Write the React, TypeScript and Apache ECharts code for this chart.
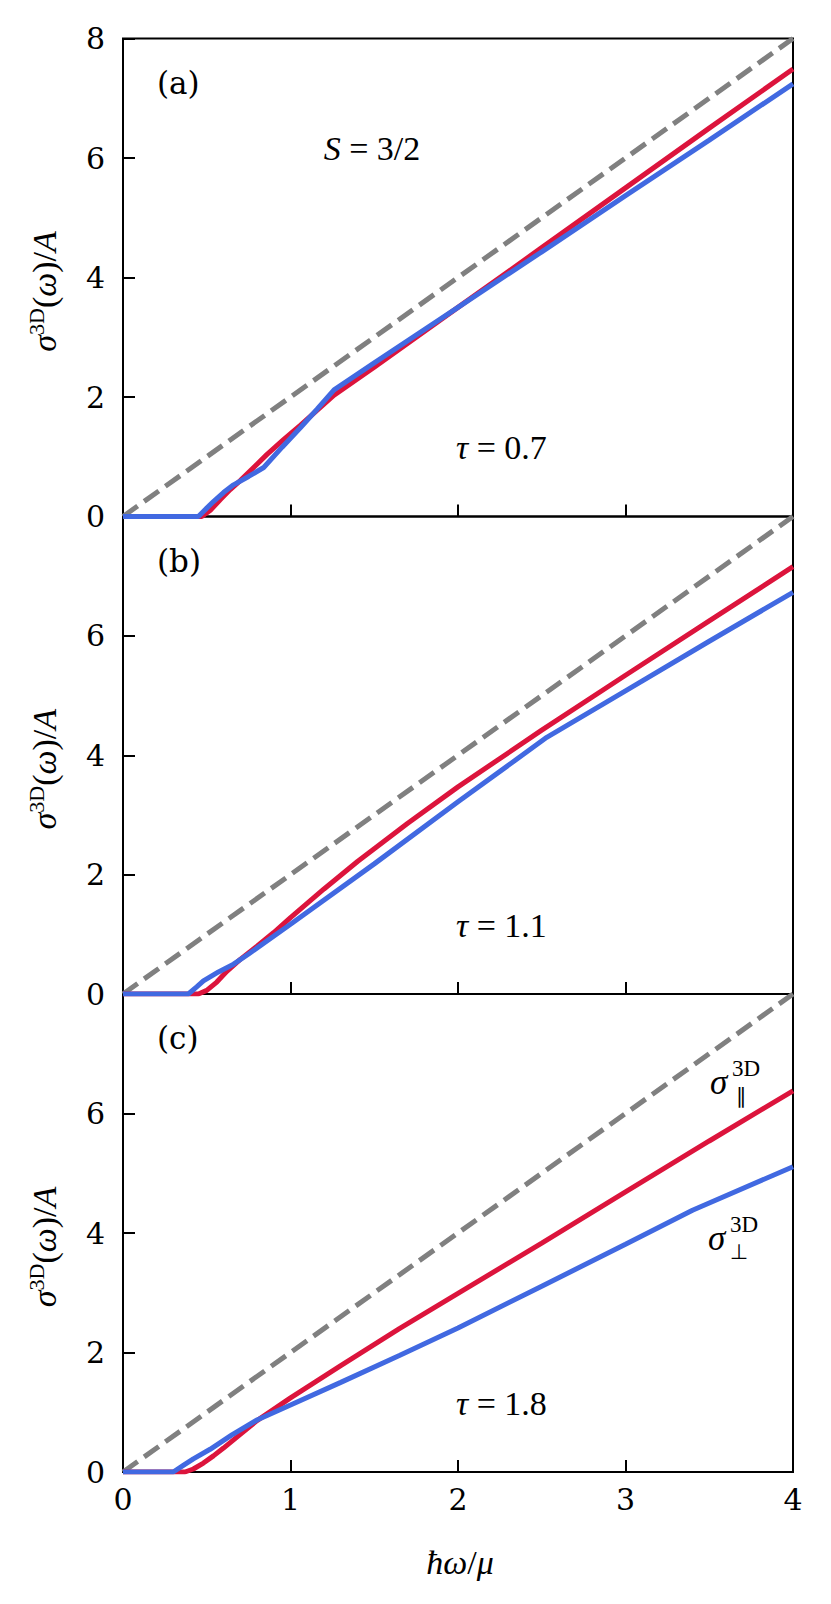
import React, { useEffect, useRef } from "react";
import * as echarts from "echarts";

// dashed reference line (same in every panel)
const dashX = [0, 4];
const dashY = [0, 8];

// panel (a), tau = 0.7
const redAX = [0, 0.47, 0.52, 0.58, 0.64, 0.7, 0.78, 0.86, 0.96, 1.06, 1.16, 1.26, 1.5, 2.0, 2.5, 3.0, 3.5, 4.0];
const redAY = [0, 0, 0.1, 0.28, 0.45, 0.6, 0.82, 1.04, 1.29, 1.53, 1.78, 2.03, 2.5, 3.5, 4.5, 5.5, 6.5, 7.49];
const blueAX = [0, 0.45, 0.5, 0.54, 0.6, 0.66, 0.75, 0.84, 0.95, 1.06, 1.16, 1.26, 1.5, 2.0, 2.5, 3.0, 3.5, 4.0];
const blueAY = [0, 0, 0.14, 0.25, 0.4, 0.53, 0.67, 0.82, 1.16, 1.49, 1.8, 2.12, 2.57, 3.5, 4.43, 5.37, 6.3, 7.24];

// panel (b), tau = 1.1
const redBX = [0, 0.45, 0.5, 0.56, 0.62, 0.7, 0.8, 0.9, 1.0, 1.2, 1.4, 1.7, 2.0, 2.5, 3.0, 3.5, 4.0];
const redBY = [0, 0, 0.06, 0.2, 0.38, 0.58, 0.8, 1.03, 1.28, 1.76, 2.22, 2.86, 3.47, 4.42, 5.34, 6.25, 7.16];
const blueBX = [0, 0.39, 0.44, 0.48, 0.57, 0.66, 0.75, 1.0, 1.5, 2.0, 2.53, 3.0, 3.5, 4.0];
const blueBY = [0, 0, 0.12, 0.22, 0.37, 0.5, 0.67, 1.17, 2.18, 3.22, 4.3, 5.08, 5.91, 6.73];

// panel (c), tau = 1.8
const redCX = [0, 0.37, 0.42, 0.48, 0.54, 0.6, 0.7, 0.8, 1.0, 1.3, 1.65, 2.0, 2.5, 3.0, 3.5, 4.0];
const redCY = [0, 0, 0.05, 0.15, 0.27, 0.4, 0.63, 0.86, 1.24, 1.78, 2.4, 2.99, 3.83, 4.69, 5.54, 6.38];
const blueCX = [0, 0.3, 0.36, 0.42, 0.52, 0.65, 0.8, 1.0, 1.3, 1.65, 2.0, 2.5, 3.0, 3.4, 4.0];
const blueCY = [0, 0, 0.11, 0.22, 0.38, 0.62, 0.87, 1.12, 1.5, 1.95, 2.41, 3.11, 3.81, 4.38, 5.11];

const panelLabels = ["(a)", "(b)", "(c)"];
const tauLabels = ["0.7", "1.1", "1.8"];

const RED = "#dc143c";
const BLUE = "#4169e1";
const GRAY = "#808080";
const SERIF = "'DejaVu Serif', serif";
const MATH = "'Liberation Serif', 'Times New Roman', serif";

const pairs = (xs: number[], ys: number[]) => xs.map((x, i) => [x, ys[i]]);

const panels = [
  { red: pairs(redAX, redAY), blue: pairs(blueAX, blueAY) },
  { red: pairs(redBX, redBY), blue: pairs(blueBX, blueBY) },
  { red: pairs(redCX, redCY), blue: pairs(blueCX, blueCY) },
];

const GRID_LEFT = 123;
const GRID_W = 670;
const GRID_TOPS = [38.5, 516.5, 994];
const GRID_H = [478, 477.5, 478];

const mathRich = {
  i: { fontFamily: MATH, fontStyle: "italic", fontSize: 34, fill: "#000" },
  n: { fontFamily: MATH, fontSize: 34, fill: "#000" },
};

export default function App() {
  const ref = useRef<HTMLDivElement>(null);
  useEffect(() => {
    document.body.style.margin = "0";
    const chart = echarts.init(ref.current!, null, { renderer: "svg" });

    const grid = GRID_TOPS.map((t, i) => ({
      left: GRID_LEFT,
      top: t,
      width: GRID_W,
      height: GRID_H[i],
      show: true,
      borderColor: "#000",
      borderWidth: 2,
      backgroundColor: "transparent",
    }));

    const xAxis = GRID_TOPS.map((_, i) => ({
      type: "value",
      gridIndex: i,
      min: 0,
      max: 4,
      interval: 1,
      splitLine: { show: false },
      axisLine: { show: false },
      axisTick: { show: true, inside: true, length: 12, lineStyle: { color: "#000", width: 2 } },
      axisLabel: {
        show: i === 2,
        color: "#000",
        fontFamily: SERIF,
        fontSize: 30,
        margin: 12,
      },
    }));

    const yAxis = GRID_TOPS.map((_, i) => ({
      type: "value",
      gridIndex: i,
      min: 0,
      max: 8,
      interval: 2,
      splitLine: { show: false },
      axisLine: { show: false },
      axisTick: { show: true, inside: true, length: 12, lineStyle: { color: "#000", width: 2 } },
      axisLabel: {
        color: "#000",
        fontFamily: SERIF,
        fontSize: 30,
        margin: 18,
        formatter: (v: number) => (i > 0 && v === 8 ? "" : String(v)),
      },
    }));

    const series: any[] = [];
    panels.forEach((p, i) => {
      series.push({
        type: "line",
        xAxisIndex: i,
        yAxisIndex: i,
        data: pairs(dashX, dashY),
        showSymbol: false,
        lineStyle: { color: GRAY, width: 5, type: [18, 8] },
        z: 2,
      });
      series.push({
        type: "line",
        xAxisIndex: i,
        yAxisIndex: i,
        data: p.red,
        showSymbol: false,
        lineStyle: { color: RED, width: 5 },
        z: 3,
      });
      series.push({
        type: "line",
        xAxisIndex: i,
        yAxisIndex: i,
        data: p.blue,
        showSymbol: false,
        lineStyle: { color: BLUE, width: 5 },
        z: 4,
      });
    });

    const graphic: any[] = [];
    GRID_TOPS.forEach((t, i) => {
      // panel letter
      graphic.push({
        type: "text",
        x: 157,
        y: t + 44,
        style: { text: panelLabels[i], fontFamily: SERIF, fontSize: 31, fill: "#000", verticalAlign: "middle" },
      });
      // tau label
      graphic.push({
        type: "text",
        x: 456,
        y: t + GRID_H[i] - 69,
        style: {
          text: `{i|τ}{n| = ${tauLabels[i]}}`,
          rich: mathRich,
          verticalAlign: "middle",
        },
      });
      // y-axis name
      graphic.push({
        type: "text",
        x: 44,
        y: t + GRID_H[i] / 2 + 14,
        rotation: Math.PI / 2,
        style: {
          text: "{i|σ}{s|3D}{n|(}{i|ω}{n|)/}{i|A}",
          rich: {
            i: { fontFamily: MATH, fontStyle: "italic", fontSize: 34, fill: "#000", lineHeight: 38 },
            n: { fontFamily: MATH, fontSize: 34, fill: "#000", lineHeight: 38 },
            s: { fontFamily: MATH, fontSize: 22, fill: "#000", verticalAlign: "top", lineHeight: 22 },
          },
          align: "center",
          verticalAlign: "middle",
        },
      });
    });

    // S = 3/2
    graphic.push({
      type: "text",
      x: 372,
      y: 148,
      style: { text: "{i|S}{n| = 3/2}", rich: mathRich, align: "center", verticalAlign: "middle" },
    });

    // x-axis name
    graphic.push({
      type: "text",
      x: 460,
      y: 1562,
      style: { text: "{i|ħω}{n|/}{i|μ}", rich: mathRich, align: "center", verticalAlign: "middle" },
    });

    // sigma parallel / perp labels
    const sigLabel = (x: number, y: number, sub: string) => {
      graphic.push({
        type: "text",
        x,
        y,
        style: { text: "σ", fontFamily: MATH, fontStyle: "italic", fontSize: 35, fill: "#000", verticalAlign: "middle" },
      });
      graphic.push({
        type: "text",
        x: x + 22,
        y: y - 14,
        style: { text: "3D", fontFamily: MATH, fontSize: 23, fill: "#000", verticalAlign: "middle" },
      });
      graphic.push({
        type: "text",
        x: x + 31,
        y: y + 14,
        style: { text: sub, fontFamily: "'DejaVu Sans', sans-serif", fontSize: 21, fill: "#000", align: "center", verticalAlign: "middle" },
      });
    };
    sigLabel(710, 1082, "∥");
    sigLabel(708, 1238, "⊥");

    chart.setOption({
      animation: false,
      grid,
      xAxis,
      yAxis,
      series,
      graphic,
    });
    return () => chart.dispose();
  }, []);
  return <div ref={ref} style={{ width: 831, height: 1604 }} />;
}
